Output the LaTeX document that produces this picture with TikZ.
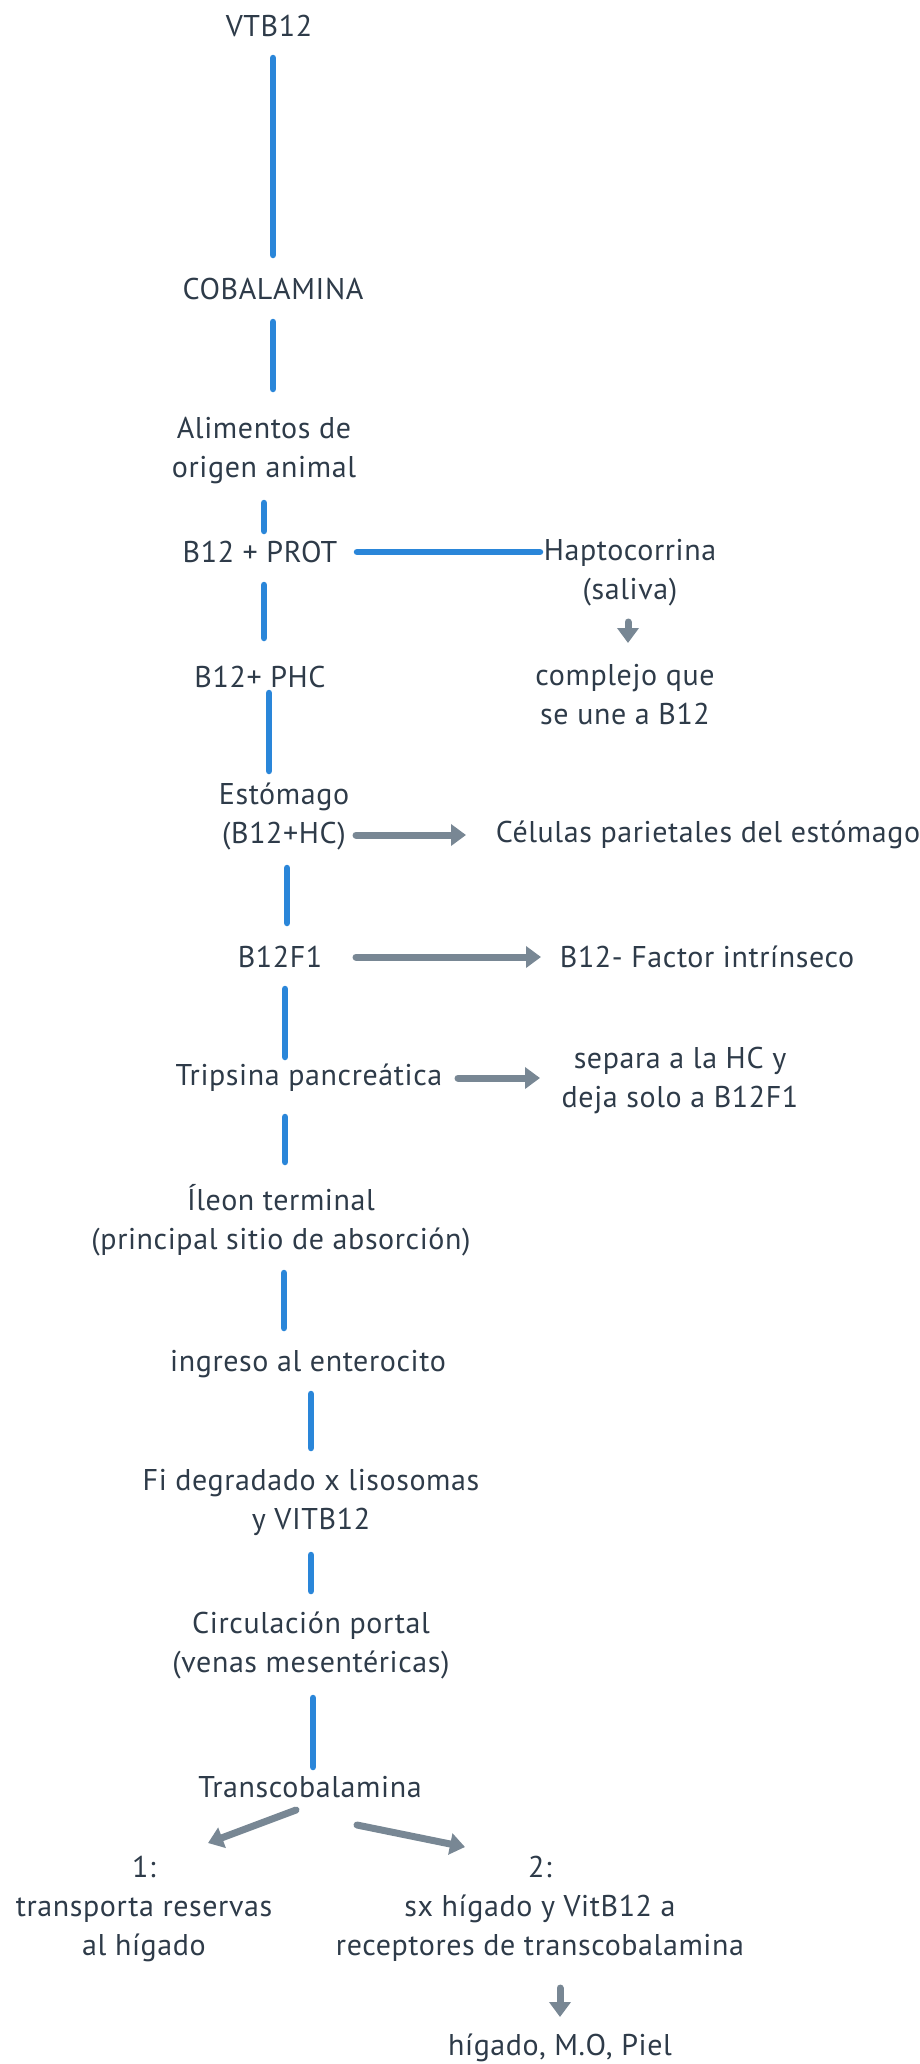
\documentclass[tikz,border=0pt]{standalone}
\usepackage{fontspec}
\setmainfont{PT Sans}[LetterSpace=2.0]
\usepackage{tikz}
\usetikzlibrary{arrows.meta}
\definecolor{ink}{HTML}{2E3B49}
\definecolor{linkblue}{HTML}{2A86D9}
\definecolor{arrowgray}{HTML}{788794}
\tikzstyle{txt} = [text=ink, align=center, inner sep=0pt,
                   font=\fontsize{30}{39}\selectfont]
\tikzstyle{link} = [draw=linkblue, line width=6.5pt, line cap=round]
\tikzstyle{arr} = [draw=arrowgray, line width=7pt, line cap=round,
                   -{Triangle[width=21pt,length=15pt]}]

\begin{document}
\begin{tikzpicture}[x=1pt, y=-1pt]
\useasboundingbox (0,0) rectangle (920,2064);

% main column
\node [txt] (vtb) at (269,26) {VTB12};
\node [txt] (cob) at (273,289) {COBALAMINA};
\node [txt] (alim) at (264,451) {Alimentos de\\origen animal};
\node [txt] (prot) at (260,552) {B12 + PROT};
\node [txt] (phc) at (260,677) {B12+ PHC};
\node [txt] (estom) at (284,816) {Estómago\\(B12+HC)};
\node [txt] (fone) at (280,957) {B12F1};
\node [txt] (trip) at (309,1078) {Tripsina pancreática};
\node [txt] (ileon) at (281,1220) {Íleon terminal\\(principal sitio de absorción)};
\node [txt] (ingr) at (308,1364) {ingreso al enterocito};
\node [txt] (fideg) at (311,1502) {Fi degradado x lisosomas\\y VITB12};
\node [txt] (circ) at (311,1645) {Circulación portal\\(venas mesentéricas)};
\node [txt] (trans) at (310,1787) {Transcobalamina};

% side notes
\node [txt] (hapto) at (630,573) {Haptocorrina\\(saliva)};
\node [txt] (compl) at (625,695) {complejo que\\se une a B12};
\node [txt] (cel) at (708,835) {Células parietales del estómago};
\node [txt] (fint) at (707,957) {B12- Factor intrínseco};
\node [txt] (sep) at (680,1080) {separa a la HC y\\deja solo a B12F1};

% branches
\node [txt] (one) at (144,1909) {1:\\transporta reservas\\al hígado};
\node [txt] (two) at (540,1909) {2:\\sx hígado y VitB12 a\\receptores de transcobalamina};
\node [txt] (dest) at (560,2048) {hígado, M.O, Piel};

\path [link, shorten <=32pt, shorten >=34pt] (vtb.center -| cob.center) -- (cob.center);
\path [link, shorten <=33pt, shorten >=62pt] (cob.center) -- (cob.center |- alim.center);
\path [link, shorten <=52pt, shorten >=21pt] (alim.center) -- (alim.center |- prot.center);
\path [link, shorten <=33pt, shorten >=39pt] ([xshift=4pt]prot.center) -- ([xshift=4pt]prot.center |- phc.center);
\path [link, shorten <=16pt, shorten >=45pt] ([xshift=9pt]phc.center) -- ([xshift=9pt]phc.center |- estom.center);
\path [link, shorten <=52pt, shorten >=34pt] ([xshift=3pt]estom.center) -- ([xshift=3pt]estom.center |- fone.center);
\path [link, shorten <=32pt, shorten >=21pt] ([xshift=5pt]fone.center) -- ([xshift=5pt]fone.center |- trip.center);
\path [link, shorten <=39pt, shorten >=58pt] ([xshift=4pt]trip.center -| ileon.center) -- ([xshift=4pt]ileon.center);
\path [link, shorten <=53pt, shorten >=36pt] ([xshift=3pt]ileon.center) -- ([xshift=3pt]ileon.center |- ingr.center);
\path [link, shorten <=30pt, shorten >=54pt] (ingr.center -| fideg.center) -- (fideg.center);
\path [link, shorten <=53pt, shorten >=54pt] (fideg.center) -- (circ.center);
\path [link, shorten <=53pt, shorten >=20pt] ([xshift=2pt]circ.center) -- ([xshift=2pt]circ.center |- trans.center);
\path [link, shorten <=97pt, shorten >=90pt] (prot.center) -- (prot.center -| hapto.center);

\path [arr, shorten <=49pt, shorten >=52pt] ([xshift=-2pt]hapto.center) -- ([xshift=-2pt]hapto.center |- compl.center);
\path [arr, shorten <=72pt, shorten >=242pt] (cel.center -| estom.center) -- (cel.center);
\path [arr, shorten <=76pt, shorten >=166pt] (fone.center) -- (fint.center);
\path [arr, shorten <=149pt, shorten >=140pt] (trip.center) -- (trip.center -| sep.center);
\path [arr] ([shift={(-14,23)}]trans.center) -- ([shift={(64,-66)}]one.center);
\path [arr] ([shift={(47,38)}]trans.center) -- ([shift={(-75,-62)}]two.center);
\path [arr, shorten <=79pt, shorten >=31pt] (two.center -| dest.center) -- (dest.center);

\end{tikzpicture}
\end{document}
